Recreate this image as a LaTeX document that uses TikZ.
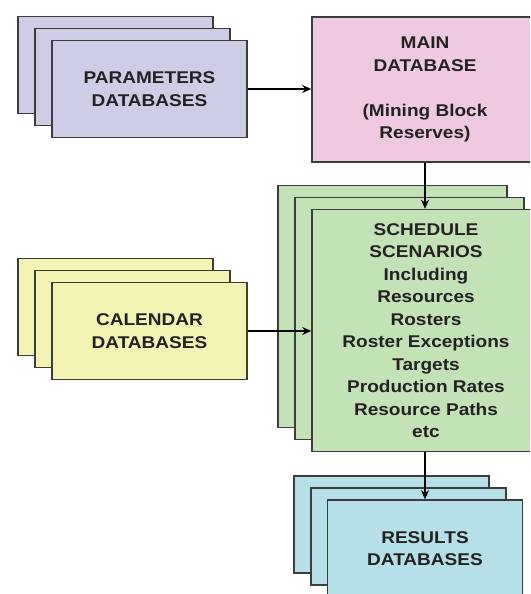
\documentclass[tikz,border=0pt]{standalone}
\usepackage{fontspec}
\setmainfont{Liberation Sans}[FakeStretch=1.12]
\usetikzlibrary{arrows.meta}
\definecolor{bordc}{HTML}{3C3C3C}
\definecolor{txtc}{HTML}{222222}
\definecolor{paramc}{HTML}{CDCDE8}
\definecolor{mainc}{HTML}{EFC9E2}
\definecolor{schedc}{HTML}{C3E2B5}
\definecolor{calc}{HTML}{F3F3B3}
\definecolor{resc}{HTML}{B5E0E8}
\tikzset{
  dbox/.style={draw=bordc, line width=1.6pt, inner sep=0pt, text=txtc,
    align=center, font=\fontsize{17}{22.5}\selectfont\bfseries},
  txt/.style={inner sep=0pt, text=txtc, align=center,
    font=\fontsize{17}{22.5}\selectfont\bfseries},
  smallbox/.style={dbox, minimum width=195pt, minimum height=97pt},
  schedbox/.style={dbox, minimum width=229pt, minimum height=242pt, fill=schedc},
  flow/.style={line width=2.8pt, draw=black, -{Stealth[length=9pt,width=8pt]}}
}
\begin{document}
\begin{tikzpicture}[x=1pt,y=-1pt]
\useasboundingbox (0,0) rectangle (530,594);
\clip (0,0) rectangle (530,594);
\fill[white] (0,0) rectangle (530,594);
% parameters stack
\node[smallbox, fill=paramc] (p1) at (115.5,65) {};
\node[smallbox, fill=paramc] (p2) at (132.5,77) {};
\node[smallbox, fill=paramc] (p3) at (149.5,89) {PARAMETERS\\DATABASES};
% main database (runs past the right edge)
\node[dbox, fill=mainc, minimum width=260pt, minimum height=145pt] (main) at (442,89.5) {};
\node[txt] (maintxt) at (425,89.5) {MAIN\\DATABASE\\[22.5pt](Mining Block\\Reserves)};
% schedule stack
\node[schedbox] (s1) at (392.5,306.5) {};
\node[schedbox] (s2) at (409.5,318.5) {};
\node[schedbox, minimum width=260pt] (s3) at (442,330.5) {};
\node[txt] (s3txt) at (426,330.5) {SCHEDULE\\SCENARIOS\\Including\\Resources\\Rosters\\Roster Exceptions\\Targets\\Production Rates\\Resource Paths\\etc};
% calendar stack
\node[smallbox, fill=calc] (c1) at (115.5,307) {};
\node[smallbox, fill=calc] (c2) at (132.5,319) {};
\node[smallbox, fill=calc] (c3) at (149.5,331) {CALENDAR\\DATABASES};
% results stack
\node[smallbox, fill=resc] (r1) at (391.5,524.5) {};
\node[smallbox, fill=resc] (r2) at (408.5,536.5) {};
\node[smallbox, fill=resc] (r3) at (425,548.5) {RESULTS\\DATABASES};
% connectors
\draw[flow] (p3.east) -- (main.west |- p3.east);
\draw[flow] (c3.east) -- (s3.west |- c3.east);
\draw[flow] (maintxt |- main.south) -- (maintxt |- s3.north);
\draw[flow] (r3 |- s3.south) -- (r3.north);
\end{tikzpicture}
\end{document}
